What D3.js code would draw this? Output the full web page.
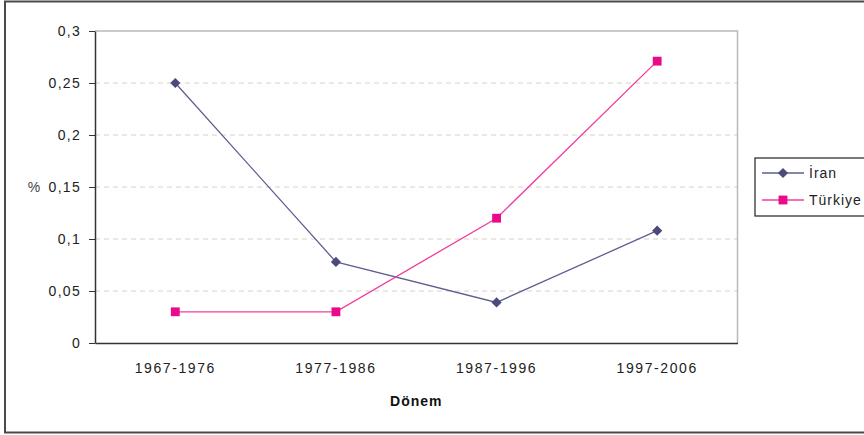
<!DOCTYPE html>
<html>
<head>
<meta charset="utf-8">
<script src="https://cdn.jsdelivr.net/npm/d3@7"></script>
<style>
  body { margin: 0; background: #fff; }
  text { font-family: "Liberation Sans", Arial, sans-serif; }
</style>
</head>
<body>
<svg id="chart" width="864" height="435"></svg>
<script>
const periods = ["1967-1976", "1977-1986", "1987-1996", "1997-2006"];
const iranValues = [0.25, 0.078, 0.039, 0.108];
const turkiyeValues = [0.03, 0.03, 0.12, 0.271];
const yTicks = [0, 0.05, 0.1, 0.15, 0.2, 0.25, 0.3];
const yTickLabels = ["0", "0,05", "0,1", "0,15", "0,2", "0,25", "0,3"];

const series = [
  { name: "\u0130ran", values: iranValues, line: "#5e5e90", mark: "#4a4a7c", symbol: d3.symbolSquare, size: 52, rot: 45 },
  { name: "T\u00fcrkiye", values: turkiyeValues, line: "#f03c9c", mark: "#ea0a8a", symbol: d3.symbolSquare, size: 78, rot: 0 }
];

const svg = d3.select("#chart");

// outer frame
svg.append("rect")
   .attr("x", 5).attr("y", 1.5)
   .attr("width", 880).attr("height", 431)
   .attr("fill", "#fff")
   .attr("stroke", "#4a4a4a")
   .attr("stroke-width", 2);

const plot = { left: 95, top: 31, right: 737.5, bottom: 343 };

const x = d3.scaleBand()
    .domain(periods)
    .range([plot.left, plot.right]);

const y = d3.scaleLinear()
    .domain([0, 0.3])
    .range([plot.bottom, plot.top]);

// gridlines
svg.append("g")
   .selectAll("line")
   .data(yTicks.slice(1, -1))
   .join("line")
   .attr("x1", plot.left).attr("x2", plot.right)
   .attr("y1", d => y(d)).attr("y2", d => y(d))
   .attr("stroke", "#d6d2cc")
   .attr("stroke-dasharray", "5,4");

// plot-area border (top and right)
svg.append("path")
   .attr("d", `M${plot.left},${plot.top}H${plot.right}V${plot.bottom}`)
   .attr("fill", "none")
   .attr("stroke", "#bdb8b2")
   .attr("stroke-width", 1.5);

// y axis
const yAxis = d3.axisLeft(y)
    .tickValues(yTicks)
    .tickFormat((d, i) => yTickLabels[i])
    .tickSize(6)
    .tickSizeOuter(0);

const gy = svg.append("g")
   .attr("transform", `translate(${plot.left},0)`)
   .call(yAxis);
gy.select(".domain").attr("stroke", "#333").attr("stroke-width", 1.5);
gy.selectAll(".tick line").attr("stroke", "#333");
gy.selectAll(".tick text")
  .attr("font-size", 14)
  .attr("letter-spacing", 1.3)
  .attr("fill", "#222")
  .attr("x", -14);

// x axis
const xAxis = d3.axisBottom(x).tickSize(0).tickSizeOuter(0).tickPadding(20);
const gx = svg.append("g")
   .attr("transform", `translate(0,${plot.bottom})`)
   .call(xAxis);
gx.select(".domain").attr("stroke", "#333").attr("stroke-width", 1.5);
gx.selectAll(".tick text")
  .attr("font-size", 14)
  .attr("letter-spacing", 1.6)
  .attr("fill", "#222");

// axis titles
svg.append("text")
   .attr("x", 34).attr("y", y(0.15) + 5)
   .attr("text-anchor", "middle")
   .attr("font-size", 14)
   .attr("fill", "#444")
   .text("%");

svg.append("text")
   .attr("x", (plot.left + plot.right) / 2).attr("y", 406)
   .attr("text-anchor", "middle")
   .attr("font-size", 14)
   .attr("letter-spacing", 1)
   .attr("font-weight", "bold")
   .attr("fill", "#111")
   .text("D\u00f6nem");

// lines and markers
const line = d3.line()
    .x((d, i) => x(periods[i]) + x.bandwidth() / 2)
    .y(d => y(d));

series.forEach(s => {
  svg.append("path")
     .datum(s.values)
     .attr("d", line)
     .attr("fill", "none")
     .attr("stroke", s.line)
     .attr("stroke-width", 1.3);

  svg.append("g")
     .selectAll("path")
     .data(s.values)
     .join("path")
     .attr("d", d3.symbol().type(s.symbol).size(s.size))
     .attr("transform", (d, i) => `translate(${x(periods[i]) + x.bandwidth() / 2},${y(d)}) rotate(${s.rot})`)
     .attr("fill", s.mark);
});

// legend
const legend = svg.append("g").attr("transform", "translate(755,158)");
legend.append("rect")
   .attr("x", 0).attr("y", 0)
   .attr("width", 130).attr("height", 58)
   .attr("fill", "#fff")
   .attr("stroke", "#222")
   .attr("stroke-width", 1.2);

series.forEach((s, i) => {
  const ly = 15 + i * 27;
  legend.append("line")
     .attr("x1", 7).attr("x2", 49)
     .attr("y1", ly).attr("y2", ly)
     .attr("stroke", s.line)
     .attr("stroke-width", 1.3);
  legend.append("path")
     .attr("d", d3.symbol().type(s.symbol).size(s.size))
     .attr("transform", `translate(28,${ly}) rotate(${s.rot})`)
     .attr("fill", s.mark);
  legend.append("text")
     .attr("x", 54).attr("y", ly + 5)
     .attr("font-size", 14)
     .attr("letter-spacing", 1)
     .attr("fill", "#222")
     .text(s.name);
});
</script>
</body>
</html>
